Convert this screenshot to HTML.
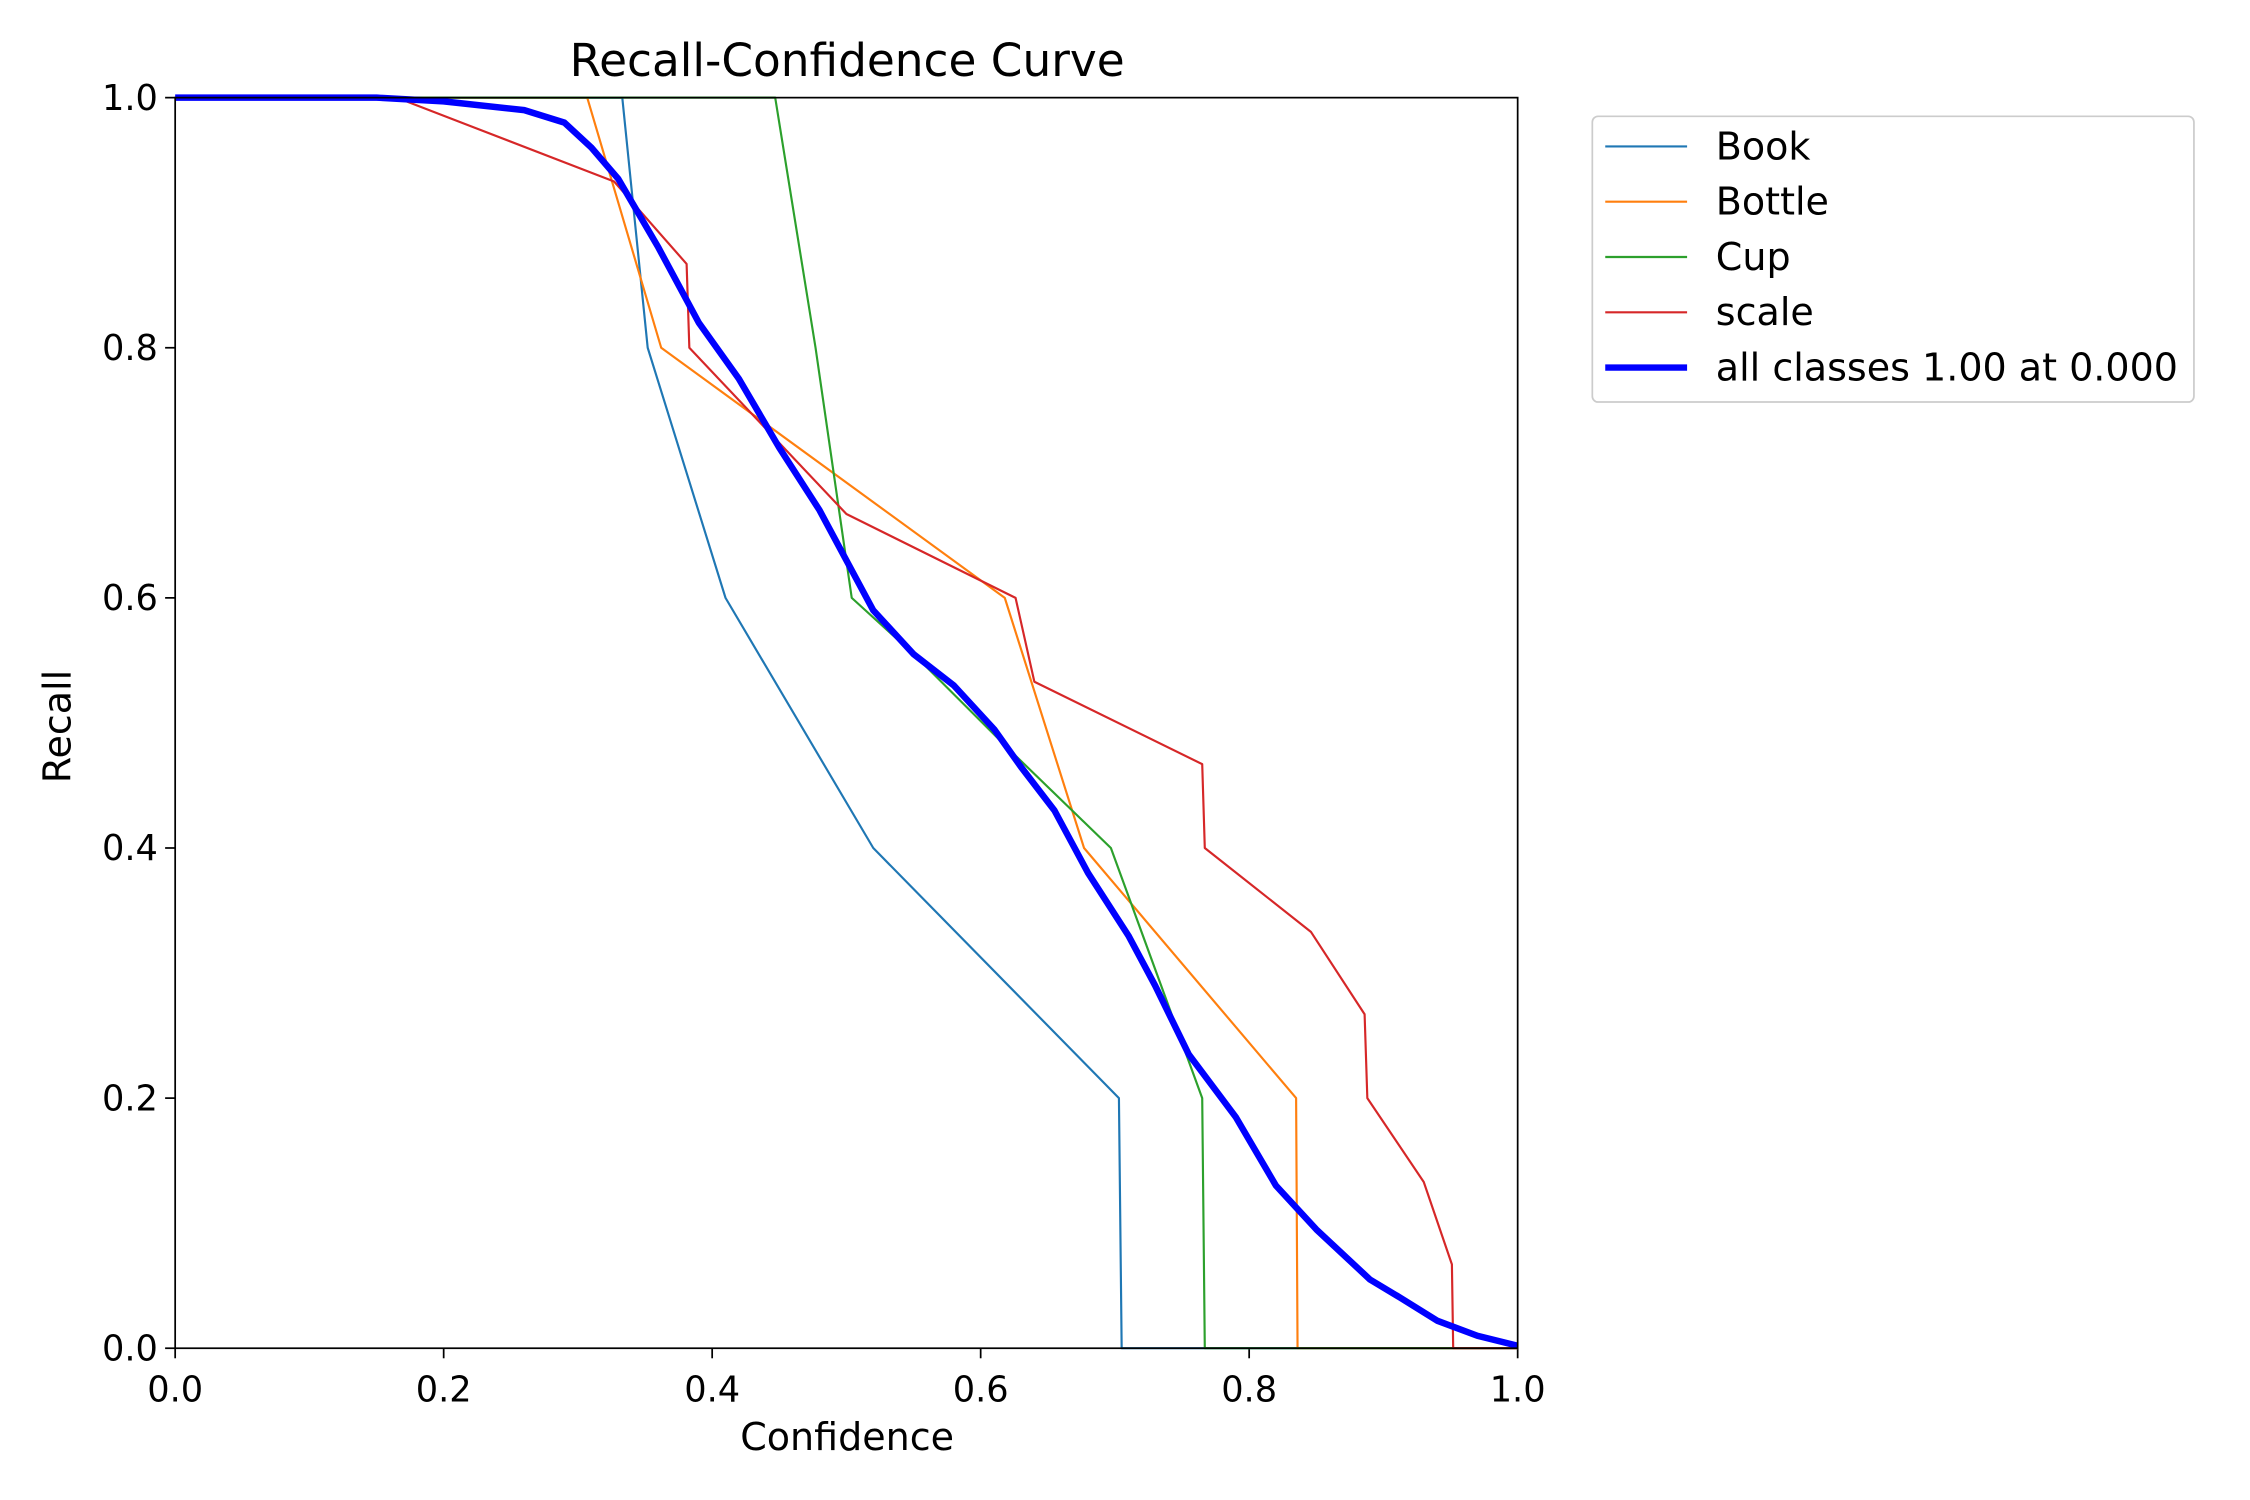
<!DOCTYPE html>
<html><head><meta charset="utf-8"><style>
html,body{margin:0;padding:0;background:#fff;}
svg{display:block;font-family:"DejaVu Sans","Liberation Sans",sans-serif;}
</style></head><body>
<svg id="chart" width="2250" height="1500" viewBox="0 0 1567 1044.7" preserveAspectRatio="xMinYMin meet" xmlns="http://www.w3.org/2000/svg">
<rect width="1567" height="1045" fill="#fff"/>
<g id="ticks"></g>
<g id="series"></g>
<rect x="122" y="68" width="935" height="871" fill="none" stroke="#000" stroke-width="1.2"/>
<text x="590" y="53" font-size="31.6" text-anchor="middle">Recall-Confidence Curve</text>
<text x="590" y="1010" font-size="26.5" text-anchor="middle">Confidence</text>
<text x="49" y="506" font-size="26.5" text-anchor="middle" transform="rotate(-90 49 506)">Recall</text>
<g id="legend"></g>
</svg>
<script>
const xTicks=[0,0.2,0.4,0.6,0.8,1.0];
const yTicks=[0,0.2,0.4,0.6,0.8,1.0];
const tickLabels=["0.0","0.2","0.4","0.6","0.8","1.0"];
const seriesNames=["Book","Bottle","Cup","scale","all classes 1.00 at 0.000"];
const seriesColors=["#1f77b4","#ff7f0e","#2ca02c","#d62728","#0000ff"];
const bookX=[0,0.333,0.352,0.41,0.52,0.703,0.705,1];
const bookY=[1,1,0.8,0.6,0.4,0.2,0,0];
const bottleX=[0,0.307,0.362,0.618,0.677,0.835,0.836,1];
const bottleY=[1,1,0.8,0.6,0.4,0.2,0,0];
const cupX=[0,0.447,0.477,0.504,0.55,0.62,0.697,0.765,0.767,1];
const cupY=[1,1,0.8,0.6,0.555,0.48,0.4,0.2,0,0];
const scaleX=[0,0.165,0.327,0.381,0.383,0.5,0.626,0.64,0.765,0.767,0.846,0.886,0.888,0.93,0.951,0.952,1];
const scaleY=[1,1,0.933,0.867,0.8,0.667,0.6,0.533,0.467,0.4,0.333,0.267,0.2,0.133,0.067,0,0];
const allX=[0,0.15,0.2,0.26,0.29,0.31,0.33,0.36,0.39,0.42,0.45,0.48,0.5,0.52,0.55,0.58,0.61,0.63,0.655,0.68,0.71,0.73,0.755,0.79,0.82,0.85,0.89,0.91,0.94,0.97,1];
const allY=[1,1,0.997,0.99,0.98,0.96,0.935,0.88,0.82,0.775,0.72,0.67,0.63,0.59,0.555,0.53,0.495,0.465,0.43,0.38,0.33,0.29,0.235,0.185,0.13,0.095,0.055,0.042,0.022,0.01,0.002];

const NS="http://www.w3.org/2000/svg";
const sx=v=>122+v*935, sy=v=>939-v*871;
function mk(tag,attrs,parent){const e=document.createElementNS(NS,tag);for(const k in attrs)e.setAttribute(k,attrs[k]);parent.appendChild(e);return e;}
const tg=document.getElementById('ticks');
xTicks.forEach((v,i)=>{
  const l=mk('line',{x1:sx(v),x2:sx(v),y1:939,y2:946,stroke:'#000','stroke-width':1.2},tg);
  
  
  const t=mk('text',{x:sx(v),y:976,'font-size':24.5,'text-anchor':'middle'},tg);t.textContent=tickLabels[i];
  
  
});
yTicks.forEach((v,i)=>{
  const l=mk('line',{x1:115,x2:122,y1:sy(v),y2:sy(v),stroke:'#000','stroke-width':1.2},tg);
  
  
  const t=mk('text',{x:110,y:sy(v)+8.5,'font-size':24.5,'text-anchor':'end'},tg);t.textContent=tickLabels[i];
  
  
});
const sg=document.getElementById('series');
const data=[[bookX,bookY],[bottleX,bottleY],[cupX,cupY],[scaleX,scaleY],[allX,allY]];
const lg=document.getElementById('legend');
const lb=mk('rect',{x:1109,y:81,width:419,height:199,rx:4,fill:'#fff',stroke:'#ccc','stroke-width':1.2},lg);


data.forEach((d,i)=>{
  const pts=d[0].map((x,j)=>sx(x).toFixed(1)+','+sy(d[1][j]).toFixed(1)).join(' ');
  const w=i===4?4.5:1.5;
  const p=mk('polyline',{points:pts,fill:'none',stroke:seriesColors[i],'stroke-width':w,'stroke-linejoin':'round'},sg);
  
  
  const y=102+i*38.5;
  const ll=mk('line',{x1:1118,x2:1175,y1:y,y2:y,stroke:seriesColors[i],'stroke-width':w},lg);
  
  
  const t=mk('text',{x:1195,y:y+9,'font-size':26.5},lg);t.textContent=seriesNames[i];
  
  
});
</script>
</body></html>
